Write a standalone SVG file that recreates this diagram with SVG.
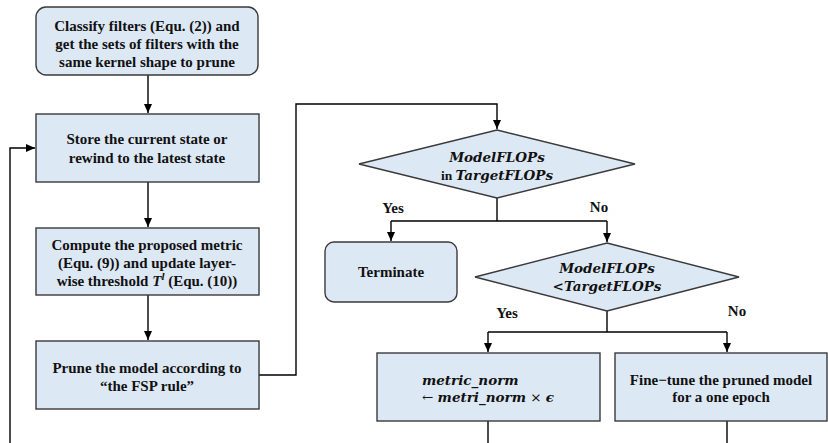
<svg xmlns="http://www.w3.org/2000/svg" width="828" height="443" viewBox="0 0 828 443">
<defs>
<marker id="arr" markerWidth="10" markerHeight="10" refX="9" refY="5" orient="auto" markerUnits="userSpaceOnUse">
<path d="M0,1 L9,5 L0,9 Z" fill="#000"/>
</marker>
<style>
.box{fill:#dde8f5;stroke:#3a3a3a;stroke-width:1.4}
.t{font-family:"Liberation Serif","Times New Roman",serif;font-weight:bold;font-size:15px;fill:#111;text-anchor:middle}
.m{font-family:"DejaVu Serif","Liberation Serif",serif;font-weight:bold;font-style:italic;font-size:13.5px;fill:#111;text-anchor:middle}
.ms{text-anchor:start}
.c{fill:none;stroke:#000;stroke-width:1.4}
</style>
</defs>
<rect width="828" height="443" fill="#fff"/>
<g id="connectors">
<path class="c" d="M148,75 V113" marker-end="url(#arr)"/>
<path class="c" d="M148,182 V227" marker-end="url(#arr)"/>
<path class="c" d="M148,295 V340" marker-end="url(#arr)"/>
<path class="c" d="M10,443 V148 H35" marker-end="url(#arr)"/>
<path class="c" d="M259,375 H296 V104 H497 V129" marker-end="url(#arr)"/>
<path class="c" d="M497,198 V221"/>
<path class="c" d="M391,221 H607"/>
<path class="c" d="M391,221 V241" marker-end="url(#arr)"/>
<path class="c" d="M607,221 V242" marker-end="url(#arr)"/>
<path class="c" d="M607,311 V332"/>
<path class="c" d="M488,332 H727"/>
<path class="c" d="M488,332 V352" marker-end="url(#arr)"/>
<path class="c" d="M727,332 V352" marker-end="url(#arr)"/>
<path class="c" d="M488,421 V443"/>
<path class="c" d="M727,421 V443"/>
<text class="t" x="393" y="213">Yes</text>
<text class="t" x="599" y="212">No</text>
<text class="t" x="507" y="318">Yes</text>
<text class="t" x="737" y="316">No</text>
</g>
<g id="classify">
<rect class="box" x="36" y="7" width="222" height="68" rx="10"/>
<text class="t" x="147" y="31">Classify filters (Equ. (2)) and</text>
<text class="t" x="147" y="49">get the sets of filters with the</text>
<text class="t" x="147" y="67">same kernel shape to prune</text>
</g>
<g id="store">
<rect class="box" x="36" y="114" width="223" height="68"/>
<text class="t" x="147" y="144">Store the current state or</text>
<text class="t" x="147" y="163">rewind to the latest state</text>
</g>
<g id="compute">
<rect class="box" x="36" y="228" width="223" height="67"/>
<text class="t" x="147" y="250">Compute the proposed metric</text>
<text class="t" x="147" y="268">(Equ. (9)) and update layer-</text>
<text class="t" x="147" y="286">wise threshold <tspan font-style="italic">T</tspan><tspan font-style="italic" font-size="11" dy="-6">l</tspan><tspan dy="6"> (Equ. (10))</tspan></text>
</g>
<g id="prune">
<rect class="box" x="36" y="341" width="223" height="68"/>
<text class="t" x="147" y="373">Prune the model according to</text>
<text class="t" x="147" y="391">“the FSP rule”</text>
</g>
<g id="decision1">
<polygon class="box" points="497,130 635,164 497,198 359,164"/>
<text class="m" x="497" y="162">ModelFLOPs</text>
<text class="m" x="497" y="180"><tspan font-family="Liberation Serif" font-style="normal">in </tspan>TargetFLOPs</text>
</g>
<g id="terminate">
<rect class="box" x="325" y="242" width="132" height="60" rx="9"/>
<text class="t" x="391" y="277">Terminate</text>
</g>
<g id="decision2">
<polygon class="box" points="607,243 739,277 607,311 475,277"/>
<text class="m" x="607" y="273">ModelFLOPs</text>
<text class="m" x="607" y="291">&lt;TargetFLOPs</text>
</g>
<g id="metric">
<rect class="box" x="377" y="353" width="223" height="68"/>
<text class="m ms" x="422" y="385">metric_norm</text>
<text class="m ms" x="422" y="402"><tspan font-style="normal" font-weight="normal">← </tspan>metri_norm<tspan font-style="normal" font-weight="normal"> × </tspan>ϵ</text>
</g>
<g id="finetune">
<rect class="box" x="615" y="353" width="212" height="68"/>
<text class="t" x="721" y="385">Fine−tune the pruned model</text>
<text class="t" x="721" y="402">for a one epoch</text>
</g>
</svg>
